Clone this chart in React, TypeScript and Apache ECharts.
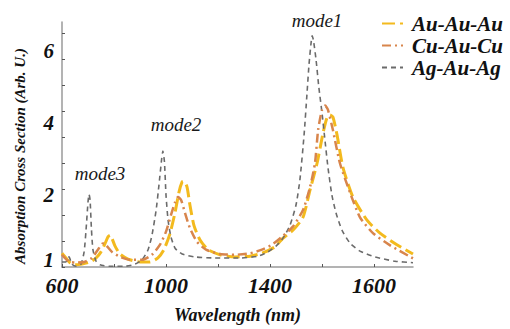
import React, { useEffect, useRef } from "react";
import * as echarts from "echarts";

// x: wavelength (nm) on a linear axis; y: position in axis units (labels 1,2,4,6)
const auAuAu: [number, number][] = [
  [600, 0.19], [615, 0.125], [631, 0.06], [650, 0.03], [677, 0.04], [708, 0.07], [731, 0.125],
  [750, 0.21], [765, 0.32], [777, 0.42], [785, 0.44], [792, 0.4], [804, 0.29], [823, 0.18],
  [854, 0.11], [900, 0.07], [938, 0.07], [969, 0.125], [992, 0.24], [1015, 0.46], [1035, 0.76],
  [1050, 1.04], [1062, 1.18], [1069, 1.19], [1081, 1.11], [1092, 0.86], [1108, 0.57], [1131, 0.375],
  [1162, 0.24], [1208, 0.17], [1265, 0.14], [1323, 0.15], [1369, 0.19], [1419, 0.28], [1450, 0.4],
  [1488, 0.51], [1527, 0.69], [1554, 1.07], [1581, 1.44], [1604, 1.86], [1619, 2.07], [1631, 2.11],
  [1642, 2.08], [1658, 1.83], [1681, 1.375], [1719, 0.97], [1773, 0.65], [1823, 0.47], [1888, 0.31],
  [1950, 0.18],
];

const cuAuCu: [number, number][] = [
  [600, 0.17], [615, 0.11], [631, 0.07], [654, 0.06], [685, 0.07], [715, 0.125], [738, 0.24],
  [754, 0.32], [762, 0.33], [773, 0.29], [792, 0.21], [823, 0.14], [862, 0.1], [908, 0.1],
  [946, 0.17], [977, 0.31], [1000, 0.49], [1019, 0.72], [1035, 0.9], [1046, 0.97], [1058, 0.93],
  [1073, 0.75], [1092, 0.54], [1119, 0.35], [1154, 0.24], [1208, 0.18], [1265, 0.17], [1323, 0.19],
  [1369, 0.24], [1408, 0.31], [1446, 0.42], [1488, 0.56], [1527, 0.79], [1554, 1.11], [1573, 1.44],
  [1585, 1.9], [1600, 2.18], [1612, 2.24], [1623, 2.18], [1642, 1.9], [1669, 1.44], [1708, 1.03],
  [1746, 0.69], [1796, 0.47], [1862, 0.3], [1950, 0.12],
];

const agAuAg: [number, number][] = [
  [600, 0.07], [615, 0.07], [627, 0.14], [638, 0.04], [654, 0.01], [673, 0.04], [685, 0.21],
  [692, 0.49], [700, 0.9], [704, 1.01], [708, 0.93], [713, 0.54], [719, 0.24], [731, 0.08],
  [746, 0.03], [785, 0.01], [842, 0.01], [881, 0.04], [908, 0.1], [931, 0.24], [946, 0.44],
  [962, 0.79], [973, 1.14], [983, 1.49], [988, 1.61], [994, 1.46], [1000, 1.0], [1008, 0.65],
  [1019, 0.42], [1035, 0.26], [1062, 0.18], [1112, 0.14], [1188, 0.125], [1285, 0.125], [1354, 0.15],
  [1392, 0.21], [1423, 0.29], [1450, 0.4], [1477, 0.58], [1500, 0.86], [1515, 1.21], [1531, 1.83],
  [1542, 2.39], [1550, 2.81], [1558, 3.11], [1562, 3.21], [1567, 3.15], [1577, 2.88], [1588, 2.49],
  [1600, 2.14], [1612, 1.74], [1623, 1.38], [1638, 1.0], [1654, 0.75], [1677, 0.51], [1708, 0.33],
  [1746, 0.22], [1804, 0.14], [1881, 0.08], [1950, 0.06],
];

const seriesNames = ["Au-Au-Au", "Cu-Au-Cu", "Ag-Au-Ag"];
const xTickValues = [600, 800, 1000, 1200, 1400, 1600, 1800];
const xLabelValues = [600, 1000, 1400, 1800];
const xLabelTexts = ["600", "1000", "1400", "1600"];
const yLabelValues = [0.1, 1, 2, 3];
const yLabelTexts = ["1", "2", "4", "6"];
const yTickValues = [0, 0.36, 0.72, 1.08, 1.44, 1.8, 2.16, 2.52, 2.88, 3.24];
const modeLabels = ["mode1", "mode2", "mode3"];

const SERIF = "'Liberation Serif', 'DejaVu Serif', serif";

export default function App() {
  const ref = useRef<HTMLDivElement>(null);
  useEffect(() => {
    if (!ref.current) return;
    const chart = echarts.init(ref.current, undefined, { renderer: "svg" });
    const labelStyle = {
      fontFamily: SERIF,
      fontWeight: "bold" as const,
      fontStyle: "italic" as const,
      color: "#111",
    };
    chart.setOption({
      animation: false,
      backgroundColor: "#ffffff",
      grid: { left: 62, right: 97, top: 22, bottom: 62 },
      legend: {
        orient: "vertical",
        left: 376,
        top: 8,
        itemWidth: 21,
        itemHeight: 14,
        itemGap: 1,
        data: seriesNames,
        itemStyle: { opacity: 0 },
        textStyle: { ...labelStyle, fontSize: 21, padding: [0, 0, 0, 4] },
      },
      xAxis: {
        type: "value",
        min: 600,
        max: 1950,
        interval: 200,
        name: "Wavelength (nm)",
        nameLocation: "middle",
        nameGap: 39,
        nameTextStyle: { ...labelStyle, fontSize: 18 },
        axisLine: { lineStyle: { color: "#9a9a9a", width: 1.5 } },
        axisTick: {
          inside: true,
          length: 3,
          customValues: xTickValues,
          lineStyle: { color: "#555", width: 1 },
        },
        axisLabel: {
          ...labelStyle,
          fontSize: 22,
          margin: 7,
          customValues: xLabelValues,
          formatter: (v: number) => {
            const i = xLabelValues.indexOf(v);
            return i >= 0 ? xLabelTexts[i] : "";
          },
        },
        splitLine: { show: false },
      },
      yAxis: {
        type: "value",
        min: 0,
        max: 3.4,
        axisLine: { show: true, lineStyle: { color: "#9a9a9a", width: 1.5 } },
        axisTick: {
          show: true,
          inside: true,
          length: 3,
          customValues: yTickValues,
          lineStyle: { color: "#555", width: 1 },
        },
        axisLabel: {
          ...labelStyle,
          fontSize: 21,
          margin: 8,
          customValues: yLabelValues,
          formatter: (v: number) => {
            const i = yLabelValues.indexOf(v);
            return i >= 0 ? yLabelTexts[i] : "";
          },
        },
        splitLine: { show: false },
      },
      graphic: [
        {
          type: "text",
          x: 20,
          y: 156,
          rotation: Math.PI / 2,
          style: {
            text: "Absorption Cross Section (Arb. U.)",
            fontFamily: SERIF,
            fontWeight: "bold",
            fontStyle: "italic",
            fontSize: 15,
            fill: "#111",
            align: "center",
            verticalAlign: "middle",
          },
        },
        ...[
          [317, 20],
          [176, 124],
          [100, 173],
        ].map((p, i) => ({
          type: "text",
          x: p[0],
          y: p[1],
          style: {
            text: modeLabels[i],
            fontFamily: SERIF,
            fontStyle: "italic",
            fontSize: 19,
            fill: "#1a1a1a",
            align: "center",
            verticalAlign: "middle",
          },
        })),
      ],
      series: [
        {
          name: seriesNames[2],
          type: "line",
          data: agAuAg,
          symbol: "none",
          smooth: 0.2,
          z: 3,
          lineStyle: { color: "#6b6b6b", width: 1.6, type: [5, 4] },
          itemStyle: { color: "#6b6b6b" },
        },
        {
          name: seriesNames[1],
          type: "line",
          data: cuAuCu,
          symbol: "none",
          smooth: 0.2,
          z: 4,
          lineStyle: { color: "#d8854c", width: 2.5, type: [9, 4, 2, 4] },
          itemStyle: { color: "#d8854c" },
        },
        {
          name: seriesNames[0],
          type: "line",
          data: auAuAu,
          symbol: "none",
          smooth: 0.2,
          z: 2,
          lineStyle: { color: "#f3ba1e", width: 3, type: [13, 5] },
          itemStyle: { color: "#f3ba1e" },
        },
      ],
    });
    return () => chart.dispose();
  }, []);
  return <div ref={ref} style={{ width: 510, height: 329, position: "absolute", left: 0, top: 0 }} />;
}
